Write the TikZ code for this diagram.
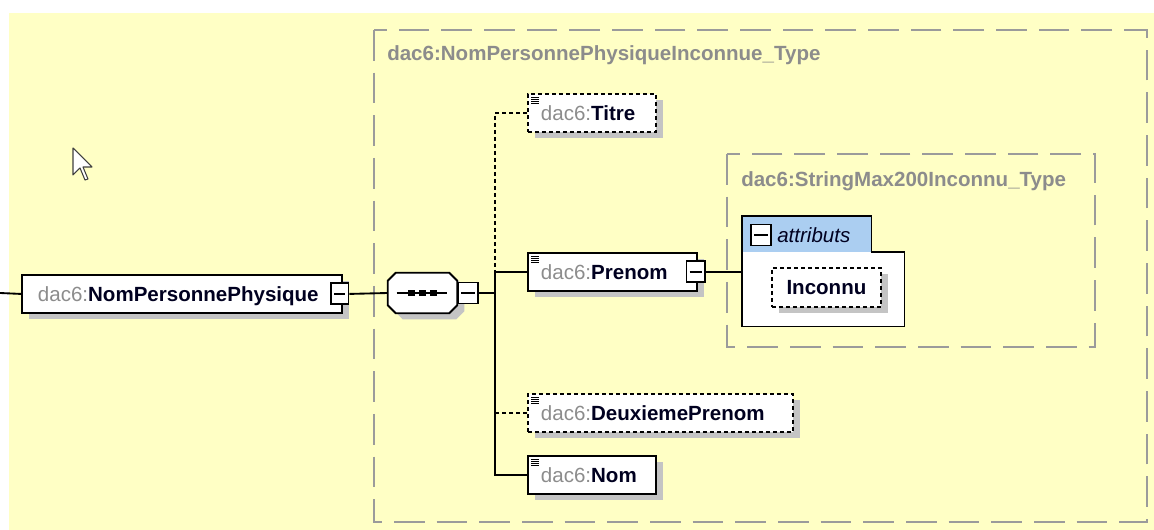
\documentclass[tikz,border=0pt]{standalone}
\usepackage{fontspec}
\setmainfont{Liberation Sans}
\usetikzlibrary{shadows}
\definecolor{paneyellow}{RGB}{255,255,197}
\definecolor{framegrey}{RGB}{155,155,155}
\definecolor{prefixgrey}{RGB}{140,140,140}
\definecolor{namedark}{RGB}{0,0,32}
\definecolor{shadegrey}{RGB}{196,196,196}
\definecolor{attrblue}{RGB}{171,206,241}
\newcommand{\xsfont}{\fontsize{15.4}{18}\selectfont}
\newcommand{\qname}[1]{\textcolor{prefixgrey}{dac6:}\textcolor{namedark}{\textbf{#1}}}

\begin{document}
\begin{tikzpicture}[x=0.75pt,y=-0.75pt,
    wire/.style={line width=1.4pt},
    optwire/.style={wire,dash pattern=on 3pt off 2.25pt},
    typeframe/.style={draw=framegrey,line width=1.5pt,dash pattern=on 23pt off 9pt},
    typelabel/.style={anchor=west,inner sep=0pt,font=\xsfont\bfseries,text=prefixgrey},
    boxshade/.style={drop shadow={shadow xshift=5.25pt,shadow yshift=-4.5pt,fill=shadegrey,opacity=1}},
    plainelem/.style={draw,fill=white,line width=1.4pt,anchor=north west,boxshade,
      minimum height=28.5pt,inner xsep=9.75pt,inner ysep=0pt,align=left,
      text height=11pt,text depth=0pt,font=\xsfont},
    elem/.style={plainelem,
      path picture={\foreach \yy in {2.6,4.2,5.8,7.4}
        \draw[solid,line width=0.9pt] ([shift={(2.6pt,-\yy pt)}]path picture bounding box.north west) -- ++(6pt,0);}},
    optelem/.style={elem,dash pattern=on 3pt off 2.25pt},
    attrelem/.style={draw,fill=white,line width=1.4pt,dash pattern=on 3pt off 2.25pt,boxshade,anchor=north west,
      inner sep=0pt,font=\xsfont\bfseries,text=namedark,text height=11pt,text depth=0pt},
    minusbtn/.style={draw,fill=white,line width=1.4pt,inner sep=0pt,minimum width=13pt,minimum height=15.75pt,
      path picture={\draw[line width=1.4pt] ([xshift=2.4pt]path picture bounding box.west) -- ([xshift=-2.4pt]path picture bounding box.east);}}
  ]
\useasboundingbox (0,0) rectangle (1154,530);
\fill[white] (0,0) rectangle (1154,530);
\fill[paneyellow] (9,13) rectangle (1154,530);

\draw[typeframe] (374,30) rectangle (1147,522);
\node[typelabel] (outerlabel) at (387,55) {dac6:NomPersonnePhysiqueInconnue\_Type};
\draw[typeframe] (727,154) rectangle (1095,347);
\node[typelabel] (innerlabel) at (741,181) {dac6:StringMax200Inconnu\_Type};

\draw[fill=white,draw=black!75,line width=0.8pt,line join=round] (73,148) -- (73,175) -- (80,168) -- (85,180) -- (88,179) -- (83,167) -- (92,167) -- cycle;

\coordinate (stub) at (0,293);
\coordinate (bus) at (495,293);

\node[plainelem,inner xsep=12pt,text width=216pt] (root) at (21,274) {\qname{NomPersonnePhysique}};
\node[minusbtn] (rb) at ([xshift=-2.25pt]root.east) {};

\node[minimum width=51.75pt,minimum height=30pt,inner sep=0pt] (seq) at (422.5,293) {};
\draw[wire,fill=white,boxshade] ([xshift=6pt]seq.north west) -- ([xshift=-6pt]seq.north east) -- ([yshift=-6pt]seq.north east)
  -- ([yshift=6pt]seq.south east) -- ([xshift=-6pt]seq.south east) -- ([xshift=6pt]seq.south west)
  -- ([yshift=6pt]seq.south west) -- ([yshift=-6pt]seq.north west) -- cycle;
\draw[wire] ([xshift=6.75pt]seq.west) -- ([xshift=-7.5pt]seq.east);
\foreach \dx in {-8.25,0,8.25}
  \fill ([xshift=\dx pt]seq.center) ++(-2.4pt,-2.4pt) rectangle ++(4.8pt,4.8pt);
\node[minusbtn,minimum width=15pt,anchor=west] (sb) at (seq.east) {};

\node[optelem,text width=76.5pt] (titre) at (527,93) {\qname{Titre}};
\node[elem,text width=107.25pt] (prenom) at (527,252) {\qname{Prenom}};
\node[minusbtn,minimum width=14pt] (pb) at ([xshift=-1.5pt]prenom.east) {};
\node[optelem,text width=179.25pt] (deux) at (527,393) {\qname{DeuxiemePrenom}};
\node[elem,text width=76.5pt] (nom) at (527,455) {\qname{Nom}};

\node[fill=attrblue,anchor=north west,minimum width=96.75pt,minimum height=27pt,inner sep=0pt] (attrhead) at (742,216) {};
\node[fill=white,anchor=north west,minimum width=121.5pt,minimum height=55.5pt,inner sep=0pt] (attrbody) at (742,252) {};
\draw[wire] (attrhead.south west) |- (attrhead.north east) |- (attrbody.north east) |- (attrbody.south west) -- cycle;
\node[minusbtn,minimum width=15pt] (ab) at (761,235) {};
\node[anchor=west,inner sep=0pt,font=\xsfont\itshape,text=namedark] (attrlabel) at (777,235) {attributs};
\node[attrelem,minimum width=81.75pt,minimum height=29.25pt] (inconnu) at (771,267) {Inconnu};

\draw[wire] (stub) -- (root.west);
\draw[wire] (rb.east) -- (seq.west);
\draw[wire] (sb.east) -- (bus);
\draw[optwire] (titre.west) -| (bus);
\draw[wire] (prenom.west) -| (bus) |- (nom.west);
\draw[optwire] (deux.west) -- (deux.west -| bus);
\draw[wire] (pb.east) -- (pb.east -| attrbody.west);
\end{tikzpicture}
\end{document}
